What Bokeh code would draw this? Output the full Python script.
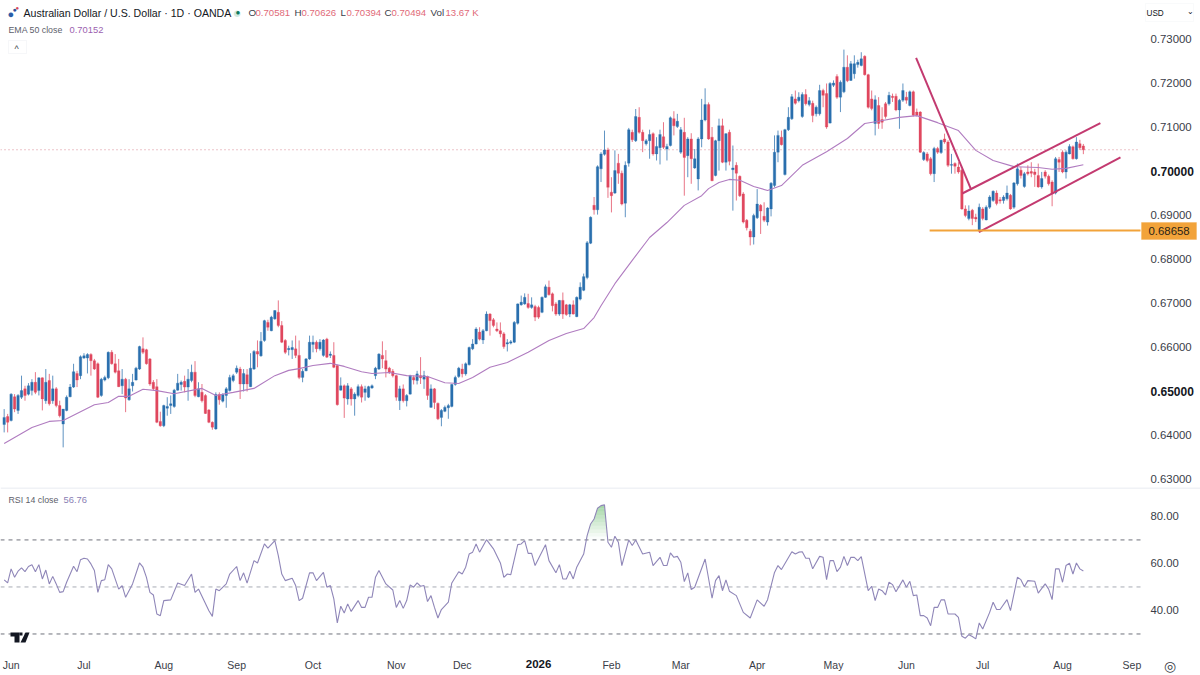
from bokeh.embed import file_html
from bokeh.resources import INLINE
from bokeh.layouts import column
from bokeh.models import (Range1d, FixedTicker, Label, BoxAnnotation, PolyAnnotation, LinearAxis,
                          NumeralTickFormatter, ColumnDataSource)
from bokeh.plotting import figure
import numpy as np

# ---------- values ----------
opens = [
 .6425,.6443,.6434,.6488,.6457,.6487,.6506,.6494,.6502,.6521,
 .6502,.6531,.6479,.6525,.6479,.6506,.6468,.6426,.6457,.6488,
 .6510,.6541,.6536,.6576,.6576,.6584,.6570,.6563,.6491,.6526,
 .6531,.6589,.6563,.6547,.6513,.6528,.6481,.6513,.6526,.6551,
 .6597,.6595,.6574,.6521,.6511,.6432,.6422,.6462,.6468,.6466,
 .6503,.6516,.6523,.6510,.6525,.6544,.6488,.6498,.6491,.6458,
 .6430,.6415,.6493,.6478,.6491,.6502,.6525,.6544,.6551,.6517,
 .6538,.6511,.6551,.6591,.6581,.6616,.6657,.6638,.6665,.6680,
 .6650,.6616,.6595,.6595,.6597,.6582,
 .6532,.6547,.6574,.6607,.6612,.6597,.6582,.6619,.6582,.6582,
 .6559,.6503,.6513,.6483,.6506,.6483,.6491,.6511,.6498,.6487,
 .6508,.6536,.6551,.6582,.6570,.6553,.6546,.6536,.6479,.6506,
 .6479,.6494,.6532,.6525,.6536,.6528,.6534,.6464,.6506,.6473,
 .6441,.6455,.6463,.6466,.6516,.6534,.6551,.6540,.6561,.6597,
 .6608,.6635,.6617,.6638,.6676,.6663,.6642,.6638,.6631,.6608,
 .6610,.6612,.6655,.6697,.6699,.6700,.6691,.6693,.6691,.6680,
 .6714,.6737,.6722,.6699,.6676,.6707,.6697,.6676,.6697,.6670,
 .6710,.6730,.6759,.6837,.6923,.6913,.7006,.7039,.7049,.6953,
 .6951,.7019,.6996,.6928,.7019,.7089,.7070,.7123,.7089,.7063,
 .7070,.7086,.7040,.7054,.7079,.7051,.7059,.7120,.7102,.7044,
 .7089,.7036,.7074,.7008,.6983,.7074,.7117,.7152,.7078,.6991,
 .7070,.7104,.7021,.7089,.7004,.7014,.6989,.6949,.6889,.6864,
 .6851,.6895,.6923,.6898,.6885,.6915,.6968,.7044,.7078,.6993,
 .7095,.7120,.7165,.7161,.7125,.7175,.7152,.7155,.7131,.7131,
 .7184,.7177,.7110,.7196,.7216,.7169,.7181,.7237,.7207,.7222,
 .7243,.7241,.7262,.7220,.7165,.7109,.7150,.7118,.7154,.7154,
 .7171,.7171,.7140,.7162,.7169,.7150,.7181,.7135,.7135,.7027,
 .7040,.7029,.6995,.7052,.7043,.7074,.7067,.7014,.7018,.7010,
 .7003,.6915,.6893,.6912,.6896,.6866,.6915,.6890,.6919,.6934,
 .6951,.6936,.6934,.6938,.6946,.6919,.6972,.7003,.6966,.6999,
 .7000,.6999,.6991,.6965,.6999,.6989,.6976,.6951,.7027,.7044,
 .6999,.7040,.7056,.7029,.7063,.70581]
highs = [
 .6460,.6449,.6496,.6494,.6494,.6536,.6513,.6519,.6528,.6544,
 .6532,.6532,.6551,.6540,.6536,.6510,.6479,.6460,.6491,.6517,
 .6563,.6547,.6582,.6587,.6587,.6587,.6574,.6566,.6531,.6536,
 .6591,.6594,.6585,.6574,.6551,.6531,.6528,.6540,.6556,.6604,
 .6623,.6597,.6576,.6526,.6528,.6454,.6470,.6487,.6491,.6506,
 .6540,.6525,.6536,.6551,.6561,.6569,.6521,.6517,.6494,.6460,
 .6432,.6498,.6498,.6496,.6510,.6538,.6540,.6559,.6556,.6551,
 .6551,.6587,.6594,.6616,.6635,.6663,.6663,.6672,.6685,.6707,
 .6660,.6619,.6604,.6616,.6627,.6616,
 .6551,.6576,.6627,.6627,.6616,.6619,.6619,.6622,.6591,.6612,
 .6561,.6532,.6516,.6519,.6510,.6498,.6516,.6516,.6513,.6513,
 .6516,.6556,.6587,.6614,.6594,.6556,.6551,.6538,.6513,.6516,
 .6494,.6538,.6536,.6547,.6578,.6547,.6536,.6516,.6508,.6475,
 .6460,.6468,.6472,.6517,.6536,.6556,.6563,.6566,.6602,.6619,
 .6646,.6646,.6642,.6682,.6678,.6667,.6657,.6657,.6635,.6619,
 .6617,.6660,.6700,.6718,.6723,.6722,.6714,.6697,.6695,.6716,
 .6743,.6752,.6725,.6703,.6708,.6725,.6699,.6699,.6707,.6716,
 .6748,.6768,.6842,.6898,.6942,.7014,.7044,.7093,.7054,.6987,
 .7048,.7040,.7002,.7023,.7099,.7095,.7142,.7146,.7095,.7074,
 .7095,.7089,.7078,.7095,.7112,.7063,.7125,.7137,.7131,.7101,
 .7122,.7078,.7087,.7051,.7078,.7165,.7189,.7157,.7101,.7072,
 .7120,.7120,.7087,.7095,.7059,.7021,.6991,.6953,.6892,.6869,
 .6904,.6960,.6926,.6930,.6919,.6976,.7082,.7093,.7093,.7097,
 .7146,.7176,.7184,.7180,.7180,.7187,.7169,.7161,.7150,.7197,
 .7188,.7200,.7203,.7207,.7221,.7207,.7277,.7264,.7251,.7264,
 .7254,.7271,.7264,.7222,.7184,.7173,.7169,.7146,.7158,.7181,
 .7177,.7177,.7165,.7200,.7181,.7184,.7184,.7143,.7137,.7046,
 .7044,.7033,.7056,.7056,.7072,.7086,.7071,.7040,.7021,.7021,
 .7006,.6923,.6923,.6915,.6904,.6927,.6919,.6923,.6946,.6957,
 .6957,.6942,.6946,.6968,.6949,.6976,.7018,.7010,.6999,.7014,
 .7021,.7006,.7018,.6999,.7003,.6993,.6980,.7033,.7033,.7048,
 .7048,.7062,.7059,.7078,.7072,.70626]
lows = [
 .6407,.6407,.6432,.6453,.6449,.6483,.6479,.6491,.6491,.6494,
 .6491,.6457,.6472,.6468,.6472,.6464,.6441,.6373,.6455,.6487,
 .6508,.6510,.6528,.6574,.6541,.6536,.6549,.6485,.6488,.6523,
 .6528,.6561,.6541,.6510,.6494,.6453,.6479,.6500,.6525,.6549,
 .6585,.6561,.6513,.6502,.6428,.6420,.6419,.6445,.6449,.6463,
 .6502,.6502,.6498,.6479,.6521,.6487,.6487,.6475,.6449,.6428,
 .6413,.6413,.6470,.6475,.6463,.6500,.6521,.6540,.6483,.6500,
 .6500,.6510,.6549,.6555,.6579,.6613,.6638,.6637,.6663,.6646,
 .6610,.6585,.6582,.6574,.6576,.6528,
 .6521,.6546,.6572,.6589,.6589,.6593,.6579,.6576,.6576,.6553,
 .6468,.6502,.6440,.6470,.6468,.6445,.6487,.6475,.6479,.6485,
 .6506,.6528,.6549,.6553,.6532,.6540,.6532,.6479,.6458,.6475,
 .6466,.6493,.6516,.6516,.6517,.6506,.6481,.6463,.6460,.6435,
 .6421,.6453,.6438,.6464,.6513,.6531,.6532,.6536,.6559,.6594,
 .6607,.6616,.6608,.6637,.6627,.6646,.6635,.6623,.6597,.6591,
 .6607,.6610,.6652,.6695,.6697,.6688,.6688,.6660,.6665,.6678,
 .6713,.6718,.6682,.6672,.6672,.6665,.6672,.6669,.6675,.6669,
 .6707,.6728,.6755,.6835,.6902,.6902,.6976,.7036,.6940,.6907,
 .6949,.6972,.6923,.6896,.7011,.7067,.7067,.7086,.7044,.7059,
 .7029,.7036,.7025,.7016,.7051,.7025,.7057,.7082,.7099,.7040,
 .6945,.6987,.6972,.7006,.6957,.7055,.7114,.7072,.6978,.6989,
 .7002,.7019,.7002,.7014,.6911,.6934,.6942,.6882,.6866,.6832,
 .6834,.6892,.6858,.6885,.6877,.6898,.6964,.7021,.7059,.6991,
 .7092,.7117,.7152,.7157,.7122,.7150,.7148,.7112,.7125,.7127,
 .7146,.7097,.7109,.7192,.7165,.7135,.7178,.7203,.7206,.7211,
 .7236,.7239,.7218,.7143,.7139,.7082,.7097,.7097,.7120,.7150,
 .7158,.7137,.7097,.7158,.7154,.7148,.7125,.7125,.7042,.7024,
 .7021,.6991,.6976,.7040,.7040,.7063,.7010,.6995,.6995,.6995,
 .6913,.6896,.6889,.6878,.6885,.6862,.6889,.6889,.6915,.6931,
 .6923,.6927,.6927,.6934,.6913,.6915,.6968,.6984,.6963,.6991,
 .6987,.6965,.6963,.6961,.6984,.6968,.6921,.6948,.6999,.6996,
 .6984,.7039,.7027,.7027,.7049,.70394]
closes = [
 .6441,.6430,.6494,.6460,.6491,.6502,.6491,.6513,.6521,.6498,
 .6531,.6483,.6521,.6472,.6506,.6468,.6445,.6460,.6487,.6510,
 .6545,.6526,.6579,.6581,.6584,.6570,.6551,.6487,.6528,.6532,
 .6589,.6563,.6544,.6511,.6528,.6485,.6506,.6521,.6553,.6602,
 .6589,.6563,.6517,.6506,.6430,.6422,.6468,.6466,.6472,.6503,
 .6519,.6521,.6510,.6528,.6544,.6491,.6506,.6479,.6450,.6430,
 .6419,.6493,.6481,.6493,.6506,.6532,.6536,.6553,.6517,.6541,
 .6517,.6553,.6591,.6585,.6614,.6661,.6646,.6669,.6684,.6650,
 .6612,.6589,.6598,.6600,.6582,.6532,
 .6546,.6574,.6612,.6612,.6597,.6612,.6617,.6578,.6585,.6555,
 .6470,.6513,.6485,.6513,.6483,.6494,.6511,.6487,.6506,.6511,
 .6513,.6553,.6585,.6574,.6551,.6544,.6536,.6487,.6506,.6479,
 .6491,.6536,.6526,.6540,.6531,.6536,.6491,.6506,.6475,.6438,
 .6457,.6464,.6468,.6516,.6532,.6553,.6540,.6563,.6600,.6608,
 .6642,.6619,.6638,.6676,.6661,.6650,.6638,.6631,.6602,.6611,
 .6613,.6657,.6699,.6703,.6714,.6691,.6697,.6669,.6669,.6714,
 .6738,.6720,.6695,.6676,.6707,.6676,.6675,.6697,.6676,.6714,
 .6737,.6761,.6838,.6896,.6913,.7011,.7040,.7049,.6964,.6945,
 .7002,.6996,.6926,.7014,.7095,.7072,.7125,.7089,.7070,.7070,
 .7084,.7040,.7057,.7084,.7055,.7057,.7122,.7104,.7114,.7095,
 .7032,.7074,.7029,.7029,.7074,.7117,.7152,.7074,.6979,.7070,
 .7104,.7021,.7086,.7023,.7008,.6996,.6945,.6885,.6872,.6851,
 .6900,.6926,.6910,.6889,.6917,.6973,.7044,.7082,.7061,.7095,
 .7123,.7170,.7155,.7169,.7175,.7154,.7161,.7127,.7146,.7184,
 .7173,.7101,.7200,.7201,.7169,.7203,.7237,.7206,.7245,.7245,
 .7248,.7256,.7220,.7146,.7143,.7163,.7109,.7112,.7125,.7173,
 .7168,.7140,.7162,.7184,.7162,.7181,.7128,.7128,.7044,.7043,
 .7025,.6995,.7052,.7044,.7071,.7067,.7014,.7016,.7012,.6999,
 .6915,.6900,.6910,.6893,.6892,.6919,.6893,.6919,.6942,.6955,
 .6927,.6933,.6942,.6951,.6915,.6974,.7006,.6991,.6995,.6995,
 .6996,.6993,.6965,.6984,.6989,.6972,.6949,.7029,.7021,.6999,
 .7044,.7057,.7029,.7067,.7054,.70494]

ema_bars = [0,8,13,17,21,26,30,33,36,40,44,49,57,61,66,72,78,82,85,89,94,98,103,106,111,116,122,127,131,135,
            140,145,151,157,162,167,170,172,176,181,186,191,196,201,203,206,209,212,216,220,224,230,237,243,
            248,252,258,263,269,275,280,285,291,298,302,306,311]
ema_vals = [.6382,.6418,.6432,.6434,.6450,.6470,.6475,.6489,.6489,.6505,.6502,.6495,.6507,.6491,.6498,.6507,
            .6536,.6548,.6552,.6559,.6564,.6557,.6545,.6541,.6543,.6536,.6534,.6520,.6518,.6532,.6555,.6566,
            .6589,.6616,.6632,.6643,.6668,.6695,.6745,.6798,.6850,.6884,.6923,.6945,.6961,.6975,.6982,.6980,
            .6966,.6957,.6968,.7014,.7045,.7075,.7109,.7114,.7123,.7127,.7111,.7093,.7048,.7025,.7011,.7009,
            .7005,.7007,.70152]

rsi_bars = [0,1,2,3,4,5,6,7,8,9,10,11,12,13,14,15,16,17,18,20,21,22,23,24,25,26,27,28,29,30,31,33,34,35,37,39,40,41,42,43,
            44,45,46,48,50,52,54,55,56,59,60,61,62,64,65,67,68,69,70,72,73,75,76,78,79,80,81,83,84,85,86,88,89,90,92,93,94,
            95,96,97,98,99,100,102,103,104,105,106,107,108,110,112,113,114,
            115,116,117,118,119,120,121,122,123,124,125,126,128,129,131,132,133,134,135,136,137,139,141,143,144,145,146,148,
            149,150,151,152,153,156,157,159,160,161,162,163,164,165,167,168,169,170,171,172,173,174,175,176,177,178,180,181,
            182,184,186,187,189,190,191,192,193,194,195,196,197,198,199,202,204,205,206,207,208,209,211,213,215,217,219,220,
            222,223,224,227,228,229,
            230,231,232,233,235,236,237,238,239,240,241,242,243,244,245,246,247,249,250,251,252,253,254,255,256,257,259,260,
            261,262,263,264,265,266,267,268,269,270,271,272,274,275,276,277,278,279,280,281,282,284,285,286,287,289,290,292,
            293,294,295,297,298,300,301,302,303,304,305,306,307,308,309,310,311]
rsi_vals = [53.0,51.7,57.7,54.1,56.7,58.1,56.5,58.7,59.4,56.5,59.5,53.4,57.2,51.3,54.5,51.3,47.7,48.0,52.0,58.8,56.5,61.6,62.2,61.9,59.8,57.0,47.7,52.7,53.1,59.5,57.7,49.1,50.6,45.6,51.3,60.2,58.4,54.1,47.7,46.6,
            38.5,37.8,44.2,44.5,51.7,50.6,55.5,47.7,49.1,39.9,37.5,49.1,48.4,51.3,55.5,58.7,52.7,56.0,51.6,61.2,60.2,68.3,66.5,69.7,63.3,55.5,52.7,53.7,50.6,44.2,45.2,56.0,56.0,52.7,56.2,49.9,50.6,
            44.9,34.7,41.8,38.9,42.8,39.6,44.2,41.3,41.3,45.6,45.6,54.1,57.0,51.3,48.7,41.3,44.2,
            40.9,44.2,50.9,49.9,51.7,50.3,50.6,43.8,46.3,41.3,36.8,40.4,43.5,51.7,56.5,55.5,58.4,64.0,64.8,68.3,64.8,70.1,66.2,60.2,54.1,55.5,55.2,68.0,
            68.3,69.7,64.3,64.3,59.1,68.0,61.2,56.0,59.5,53.4,53.4,56.7,53.4,58.4,64.0,71.8,76.8,78.9,83.5,84.6,84.9,69.0,66.9,71.6,69.0,59.1,70.0,67.6,
            70.0,64.0,64.8,59.1,62.6,59.1,59.1,64.5,62.6,63.0,60.5,52.3,56.0,48.9,49.9,61.9,45.2,52.7,54.8,48.4,53.0,48.2,46.3,39.2,36.8,44.5,41.8,44.6,
            56.2,59.1,57.4,65.0,64.0,64.8,
            65.0,62.2,62.2,57.7,63.0,62.6,53.1,61.2,61.2,56.5,58.4,63.0,59.1,62.6,62.6,61.2,62.9,48.4,50.3,44.2,49.1,48.4,46.6,52.0,51.0,48.0,53.0,49.9,
            52.4,46.3,46.6,37.8,37.8,36.8,33.5,41.3,41.3,44.5,44.5,38.5,38.5,37.1,29.0,28.2,29.7,28.9,27.9,34.7,32.1,39.2,43.5,40.4,40.4,44.6,39.9,54.1,
            53.1,50.1,52.7,52.4,47.4,51.3,49.1,44.6,57.7,57.7,52.0,59.1,60.1,55.5,60.2,57.7,56.76]

trend_down_bars = [262.8, 278.7]
trend_down_vals = [.7258, .6958]
channel_up_bars = [276.1, 315.9]
channel_up_vals = [.6950, .7110]
channel_low_bars = [280.9, 321.7]
channel_low_vals = [.6862, .7032]
support_price = .68658
support_start_bar = 266.7
last_close = .70494

price_ticks = [.73, .72, .71, .69, .68, .67, .66, .64, .63]
bold_price_ticks = [.70, .65]
rsi_ticks = [80, 60, 40]
rsi_levels = [70, 50, 30]
month_bars = [2, 23, 46, 67, 89, 113, 132, 175, 195, 217, 239, 260, 282, 305, 325]
month_labels = ["Jun", "Jul", "Aug", "Sep", "Oct", "Nov", "Dec", "Feb", "Mar", "Apr", "May", "Jun", "Jul", "Aug", "Sep"]
year_bar = [154]
year_label = {154: "2026"}

# ---------- styling ----------
BLUE, RED = "#2a6fae", "#e0475e"
FONT = "Liberation Sans"
TXT = "#131722"
GREY = "#5d606b"
PINK = "#c33a70"
ORANGE = "#f2a33a"
PANE_END = 327.47          # bar position where the price scale strip starts
P1_BOT, P2_BOT = 487, 675

xr = Range1d(-1.058, 344.76)
p1 = figure(width=1200, height=P1_BOT, x_range=xr, y_range=Range1d(.62818, .73886),
            output_backend="svg", toolbar_location=None, x_axis_location=None, y_axis_location=None,
            min_border=0, background_fill_color="white", border_fill_color="white")
p2 = figure(width=1200, height=P2_BOT - P1_BOT, x_range=xr, y_range=Range1d(12.34, 92.3),
            output_backend="svg", toolbar_location=None, x_axis_location=None, y_axis_location=None,
            min_border=0, background_fill_color="white", border_fill_color="white")
for p in (p1, p2):
    p.grid.visible = False
    p.outline_line_color = None

def style_axis(ax, size, weight="normal", color="#3a3d48", standoff=4):
    ax.axis_line_color = None
    ax.major_tick_line_color = None
    ax.minor_tick_line_color = None
    ax.major_label_text_font = FONT
    ax.major_label_text_font_size = f"{size}px"
    ax.major_label_text_font_style = weight
    ax.major_label_text_color = color
    ax.major_label_standoff = standoff

ax = LinearAxis(ticker=FixedTicker(ticks=price_ticks), formatter=NumeralTickFormatter(format="0.00000"),
                fixed_location=PANE_END)
style_axis(ax, 11.4)
p1.add_layout(ax, "right")
ax = LinearAxis(ticker=FixedTicker(ticks=bold_price_ticks), formatter=NumeralTickFormatter(format="0.00000"),
                fixed_location=PANE_END)
style_axis(ax, 12, "bold", TXT)
p1.add_layout(ax, "right")
ax = LinearAxis(ticker=FixedTicker(ticks=rsi_ticks), formatter=NumeralTickFormatter(format="0.00"),
                fixed_location=PANE_END)
style_axis(ax, 11.3)
p2.add_layout(ax, "right")
ax = LinearAxis(ticker=FixedTicker(ticks=month_bars), major_label_overrides=dict(zip(month_bars, month_labels)),
                fixed_location=22.98)
style_axis(ax, 10.5, standoff=3)
p2.add_layout(ax, "below")
ax = LinearAxis(ticker=FixedTicker(ticks=year_bar), major_label_overrides=year_label, fixed_location=22.98)
style_axis(ax, 11.5, "bold", TXT, standoff=4)
p2.add_layout(ax, "below")

def lab1(px, py, text, color=TXT, size=12, weight="normal", align="left"):
    p1.add_layout(Label(x=px, y=P1_BOT - py, x_units="screen", y_units="screen", text=text,
                        text_color=color, text_font=FONT, text_font_size=f"{size}px", text_font_style=weight,
                        text_align=align, text_baseline="middle"))
def lab2(px, py, text, color=TXT, size=12, weight="normal", align="left"):
    p2.add_layout(Label(x=px, y=P2_BOT - py, x_units="screen", y_units="screen", text=text,
                        text_color=color, text_font=FONT, text_font_size=f"{size}px", text_font_style=weight,
                        text_align=align, text_baseline="middle"))
def box(plot, bot, left, right, top, bottom, fill, line):
    plot.add_layout(BoxAnnotation(left=left, right=right, top=bot - top, bottom=bot - bottom, left_units="screen",
                                  right_units="screen", top_units="screen", bottom_units="screen",
                                  fill_color=fill, fill_alpha=1, line_color=line, line_width=1, level="underlay"))

# ---------- price pane ----------
bars = np.arange(len(opens))
o, h, l, c = map(np.array, (opens, highs, lows, closes))
colors = [BLUE if ci >= oi else RED for oi, ci in zip(o, c)]
src = ColumnDataSource(dict(x=bars, top=np.maximum(o, c), bottom=np.minimum(o, c), h=h, l=l, color=colors))

p1.line([xr.start, PANE_END], [last_close, last_close], line_color="#d98a95", line_width=1, line_dash="1 3")
p1.segment("x", "h", "x", "l", source=src, line_color="color", line_width=1, line_alpha=0.75)
p1.vbar("x", 0.72, "top", "bottom", source=src, fill_color="color", line_color="color", line_width=0.3)
p1.line(ema_bars, ema_vals, line_color="#b07cc0", line_width=1.1)
p1.line(trend_down_bars, trend_down_vals, line_color=PINK, line_width=2)
p1.line(channel_up_bars, channel_up_vals, line_color=PINK, line_width=2)
p1.line(channel_low_bars, channel_low_vals, line_color=PINK, line_width=2)
p1.line([support_start_bar, PANE_END], [support_price, support_price], line_color=ORANGE, line_width=2)

# orange price tag
box(p1, P1_BOT, 1141, 1196, 222, 239, ORANGE, ORANGE)
p1.add_layout(Label(x=1148, y=support_price, x_units="screen", y_units="data",
                    text=f"{support_price:.5f}", text_color="#2a2418", text_font=FONT, text_font_size="11.4px",
                    text_baseline="middle"))

# header
lab1(7, 13, "●", "#2a5ea8", 11)
lab1(12, 9, "●", "#2f4f9b", 7)
lab1(15, 7, "●", "#d8475a", 6)
lab1(23, 12, "Australian Dollar / U.S. Dollar · 1D · OANDA", TXT, 10.6)
lab1(232, 12, "●", "#cfe9e1", 15)
lab1(235, 12, "●", "#0d7a5f", 8)
header = [(248, "O"), (294, "H"), (340, "L"), (384, "C"), (430, "Vol")]
values = [(255, "0.70581"), (301, "0.70626"), (346, "0.70394"), (391, "0.70494"), (445, "13.67 K")]
for x, t in header:
    lab1(x, 12, t, "#3a3d48", 9.8)
for x, t in values:
    lab1(x, 12, t, "#df6a78", 9.6)
lab1(8, 29, "EMA 50 close", GREY, 8.8)
lab1(69, 29, "0.70152", "#9c5fb0", 9.4)
box(p1, P1_BOT, 8, 26, 40, 53, "white", "#e0e3eb")
lab1(14, 48, "^", "#3a3d48", 9)
box(p1, P1_BOT, 1145, 1193, 3, 21, "white", "#eceef2")
lab1(1146, 13, "USD", TXT, 8.2)
lab1(1186, 11, "⌄", TXT, 8)

# ---------- RSI pane ----------
p2.line([xr.start, xr.end], [92.1, 92.1], line_color="#e0e3eb", line_width=1)
for lvl, col in zip(rsi_levels, ["#6f727c", "#a8abb4", "#6f727c"]):
    p2.line([xr.start, PANE_END], [lvl, lvl], line_color=col, line_width=1, line_dash="4 4")

# green gradient above the 70 level
over = np.array([b for b, v in zip(rsi_bars, rsi_vals) if v > 70 and 165 < b < 175])
xs = np.linspace(over.min() - 1, over.max() + 1, 201)
ys = np.interp(xs, rsi_bars, rsi_vals)
for base in np.arange(70, 85, 1.5):
    p2.varea(xs, y1=np.clip(ys, base, base + 1.5), y2=np.full_like(xs, base),
             fill_color="#4caf50", fill_alpha=0.02 + (base - 70) * 0.035)
p2.line(rsi_bars, rsi_vals, line_color="#8f86b8", line_width=1.1)

lab2(8, 499, "RSI 14 close", GREY, 8.8)
lab2(63, 499, "56.76", "#8a80b4", 9.4)
lab2(1169, 665, "◎", "#3a3d48", 14, align="center")

# logo mark, drawn as shapes
def poly(xs_page, ys_page):
    p2.add_layout(PolyAnnotation(xs=list(xs_page), ys=[P2_BOT - y for y in ys_page],
                                 xs_units="screen", ys_units="screen", fill_color="#131722", fill_alpha=1,
                                 line_color="#131722", line_width=0))
poly([10, 19, 19, 14, 14, 10], [632, 632, 642, 642, 636, 636])
poly([19, 22, 22, 19], [632, 632, 635, 635])
poly([25, 29, 25, 20], [632, 632, 642, 642])

open("out.html", "w").write(file_html(column(p1, p2, spacing=0), INLINE))
